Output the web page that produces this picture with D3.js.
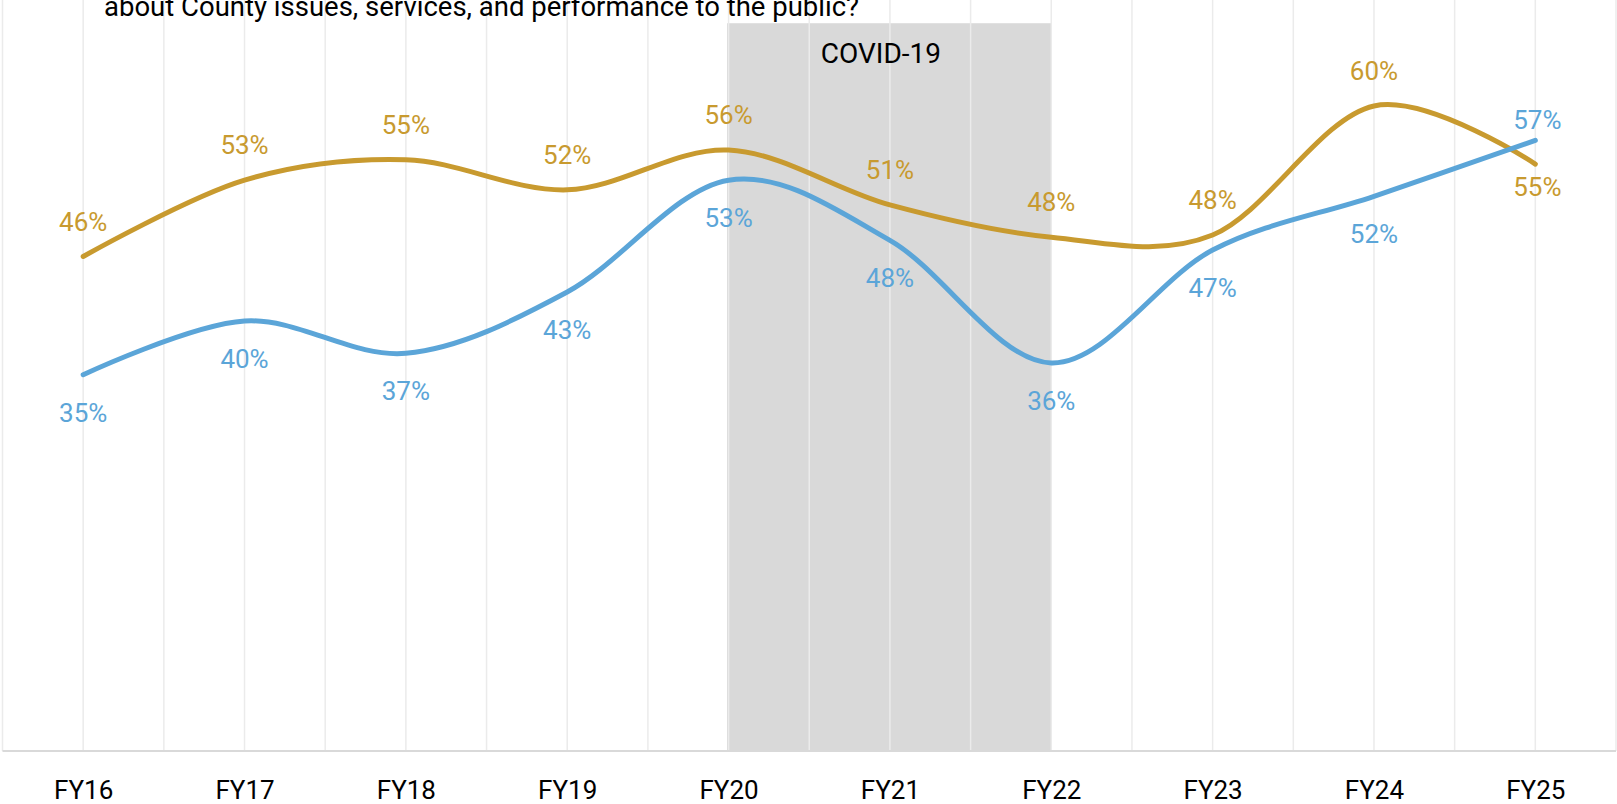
<!DOCTYPE html>
<html>
<head>
<meta charset="utf-8">
<script src="https://cdn.jsdelivr.net/npm/d3@7"></script>
<style>
  html, body { margin: 0; padding: 0; background: #fff; }
  svg { display: block; }
  text { font-family: Roboto, "Open Sans", sans-serif; }
</style>
</head>
<body>
<div id="chart"></div>
<script>
var years = ["FY16", "FY17", "FY18", "FY19", "FY20", "FY21", "FY22", "FY23", "FY24", "FY25"];
var blueValues = [0.350, 0.400, 0.370, 0.427, 0.531, 0.475, 0.361, 0.466, 0.516, 0.568];
var goldValues = [0.460, 0.531, 0.550, 0.522, 0.559, 0.508, 0.478, 0.480, 0.600, 0.546];
var bluePlacement = ["below", "below", "below", "below", "below", "below", "below", "below", "below", "above"];
var goldPlacement = ["above", "above", "above", "above", "above", "above", "above", "above", "above", "below"];
var covidStart = "FY20", covidEnd = "FY22", covidLevel = 0.677, covidLabel = "COVID-19";
var titleText = "about County issues, services, and performance to the public?";

var width = 1617, height = 804;
var blue = "#5ba5d8", gold = "#c89a2f";

var svg = d3.select("#chart").append("svg")
    .attr("width", width)
    .attr("height", height);

var x = d3.scalePoint()
    .domain(years)
    .range([2.5, 1616])
    .padding(0.5);
var step = x.step();
var y = d3.scaleLinear()
    .domain([0, 0.7])
    .range([751, -1.5]);

// shaded covid period
svg.append("rect")
    .attr("x", x(covidStart) - 1.5)
    .attr("y", y(covidLevel))
    .attr("width", x(covidEnd) - x(covidStart) + 1.5)
    .attr("height", y(0) - y(covidLevel))
    .style("fill", "#d9d9d9");

// vertical gridlines at categories and between them
var gridX = [];
years.forEach(function (d) {
    gridX.push(x(d) - step / 2);
    gridX.push(x(d));
});
gridX.push(x(years[years.length - 1]) + step / 2);
svg.append("g")
    .attr("class", "grid")
    .selectAll("line")
    .data(gridX)
    .enter()
    .append("line")
    .attr("x1", function (d) { return d; })
    .attr("x2", function (d) { return d; })
    .attr("y1", 0)
    .attr("y2", y(0))
    .style("stroke", "#ebebeb")
    .style("stroke-width", 1.5);

// category axis
var xAxis = svg.append("g")
    .attr("transform", "translate(0," + y(0) + ")")
    .call(d3.axisBottom(x).tickSize(0).tickPadding(30));
xAxis.select(".domain")
    .attr("d", "M" + (x(years[0]) - step / 2) + ",0H" + (x(years[years.length - 1]) + step / 2))
    .style("stroke", "#d9d9d9")
    .style("stroke-width", 2);
xAxis.selectAll("text")
    .style("font-family", "Roboto, 'Open Sans', sans-serif")
    .style("font-size", "26px")
    .style("fill", "#000");

var line = d3.line()
    .x(function (d, i) { return x(years[i]); })
    .y(function (d) { return y(d); })
    .curve(d3.curveCardinal.tension(0));

function drawSeries(values, placement, color) {
    svg.append("path")
        .datum(values)
        .attr("d", line)
        .style("fill", "none")
        .style("stroke", color)
        .style("stroke-width", 5)
        .style("stroke-linecap", "round");
    svg.append("g")
        .selectAll("text")
        .data(values)
        .enter()
        .append("text")
        .attr("x", function (d, i) { return x(years[i]) + (i === years.length - 1 ? 2 : 0); })
        .attr("y", function (d, i) {
            var near = i === years.length - 1;
            if (placement[i] === "above") {
                return y(d) - (near ? 21 : 35);
            }
            return y(d) + (near ? 23 : 38);
        })
        .attr("dy", "0.35em")
        .attr("text-anchor", "middle")
        .style("font-size", "26px")
        .style("fill", color)
        .text(function (d) { return Math.round(d * 100) + "%"; });
}

drawSeries(goldValues, goldPlacement, gold);
drawSeries(blueValues, bluePlacement, blue);

svg.append("text")
    .attr("x", (x(covidStart) + x(covidEnd)) / 2 - 9)
    .attr("y", 63)
    .attr("text-anchor", "middle")
    .style("font-size", "28px")
    .style("fill", "#000")
    .text(covidLabel);

svg.append("text")
    .attr("x", 104)
    .attr("y", 16)
    .style("font-size", "27.5px")
    .style("fill", "#000")
    .text(titleText);
</script>
</body>
</html>
